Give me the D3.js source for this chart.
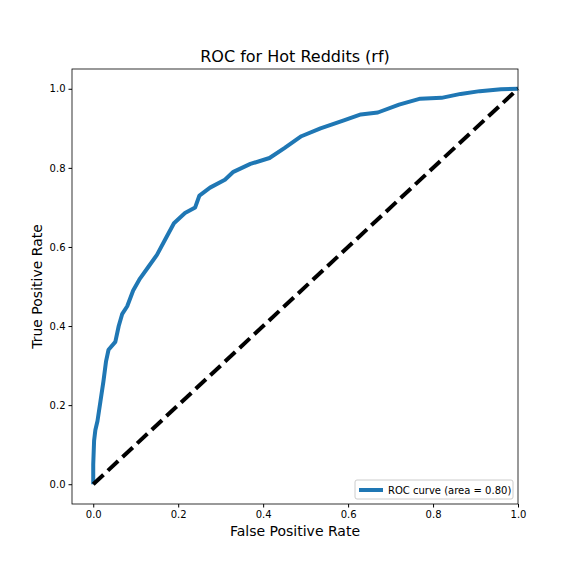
<!DOCTYPE html><html><head><script src="https://cdn.jsdelivr.net/npm/d3@7"></script>
<style>body{margin:0;background:#fff}text{font-family:"DejaVu Sans",sans-serif}</style></head><body><svg id="c" width="576" height="576"></svg>
<script>
const fpr=[0,0,0.002,0.005,0.01,0.017,0.024,0.03,0.036,0.052,0.06,0.068,0.08,0.094,0.11,0.13,0.15,0.17,0.19,0.216,0.24,0.25,0.275,0.31,0.33,0.37,0.415,0.45,0.49,0.535,0.59,0.63,0.67,0.72,0.77,0.82,0.865,0.91,0.96,1];
const tpr=[0,0.05,0.11,0.137,0.16,0.21,0.26,0.31,0.34,0.36,0.40,0.43,0.45,0.49,0.52,0.55,0.58,0.62,0.66,0.686,0.70,0.73,0.75,0.77,0.79,0.81,0.825,0.85,0.88,0.90,0.92,0.935,0.94,0.96,0.975,0.977,0.987,0.994,0.999,1];
const ticks=[0,0.2,0.4,0.6,0.8,1.0];
const svg=d3.select("#c");
const L=72,R=518,T=69,B=504;
const x=d3.scaleLinear().domain([-0.05,1.0]).range([L,R]);
const y=d3.scaleLinear().domain([-0.05,1.05]).range([B,T]);
svg.append("g").attr("transform",`translate(0,${B})`).call(d3.axisBottom(x).tickValues(ticks).tickFormat(d3.format(".1f")).tickSize(3.5)).call(g=>g.select(".domain").remove()).selectAll("text").attr("font-size",10).attr("font-family","DejaVu Sans");
svg.append("g").attr("transform",`translate(${L},0)`).call(d3.axisLeft(y).tickValues(ticks).tickFormat(d3.format(".1f")).tickSize(3.5)).call(g=>g.select(".domain").remove()).selectAll("text").attr("font-size",10).attr("font-family","DejaVu Sans");
const line=d3.line().x((d,i)=>x(fpr[i])).y((d,i)=>y(tpr[i]));
svg.append("path").attr("d",line(fpr)).attr("fill","none").attr("stroke","#1f77b4").attr("stroke-width",4).attr("stroke-linejoin","round");
svg.append("line").attr("x1",x(0)).attr("y1",y(0)).attr("x2",x(1)).attr("y2",y(1)).attr("stroke","#000").attr("stroke-width",4).attr("stroke-dasharray","14,6");
svg.append("rect").attr("x",L).attr("y",T).attr("width",R-L).attr("height",B-T).attr("fill","none").attr("stroke","#000").attr("stroke-width",0.8);
svg.append("text").attr("x",(L+R)/2).attr("y",T-7).attr("text-anchor","middle").attr("font-size",16).text("ROC for Hot Reddits (rf)");
svg.append("text").attr("x",(L+R)/2).attr("y",536).attr("text-anchor","middle").attr("font-size",14).text("False Positive Rate");
svg.append("text").attr("transform",`translate(42,${(T+B)/2}) rotate(-90)`).attr("text-anchor","middle").attr("font-size",14).text("True Positive Rate");
const lg=svg.append("g");
lg.append("rect").attr("x",355).attr("y",480).attr("width",158).attr("height",19).attr("fill","#fff").attr("stroke","#ccc").attr("rx",2);
lg.append("line").attr("x1",359).attr("x2",383).attr("y1",490).attr("y2",490).attr("stroke","#1f77b4").attr("stroke-width",4);
lg.append("text").attr("x",388).attr("y",494).attr("font-size",10).text("ROC curve (area = 0.80)");
</script></body></html>
